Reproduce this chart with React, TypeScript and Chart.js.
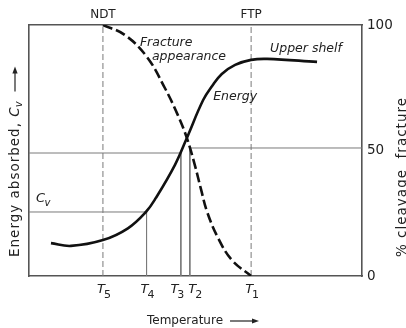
import { useEffect, useRef } from "react";
import { Chart, registerables } from "chart.js";

Chart.register(...registerables);

// ---- data (temperature axis 0..100, both curves on a 0..100 scale) ----
const T_NAMES = ["T", "T", "T", "T", "T"];
const T_SUBS = ["5", "4", "3", "2", "1"];
const T_VALUES = [22.2, 35.3, 45.6, 48.3, 66.7];
const TOP_LABELS = ["NDT", "FTP"];
const TOP_VALUES = [22.2, 66.7];
const RIGHT_TICKS = [0, 50, 100];

const ENERGY_X = [6.6, 12.6, 22.2, 29.7, 35.1, 38.1, 43.8, 47.4, 52.3, 55.0, 57.9, 61.9, 66.7, 71.5, 86.5];
const ENERGY_Y = [13.1, 12.0, 14.3, 19.0, 25.5, 31.1, 44.2, 55.0, 70.1, 75.7, 80.5, 84.1, 86.1, 86.5, 85.3];

const FRACTURE_X = [22.2, 28.8, 35.4, 40.8, 44.7, 47.4, 49.8, 51.7, 53.5, 56.8, 60.9, 66.7];
const FRACTURE_Y = [100, 96.0, 87.3, 74.9, 64.1, 55.0, 44.2, 34.3, 25.5, 15.1, 6.4, 0];

const CV_LEVEL = 25.5;
const LEFT_HALF = 49;
const RIGHT_HALF = 51;

const NOTES = [
  { text: "Fracture", x: 33.3, y: 92.8 },
  { text: "appearance", x: 36.9, y: 87.3 },
  { text: "Upper shelf", x: 72.4, y: 90.4 },
  { text: "Energy", x: 55.3, y: 71.3 },
];
const CV_NOTE = { x: 2.1, y: 30.7 };

const FONT = "'DejaVu Sans', sans-serif";
const TEXT = "#222";
const FRAME = "#555";
const GRAY = "#7a7a7a";
const INK = "#111";

function arrow(ctx: CanvasRenderingContext2D, x1: number, y1: number, x2: number, y2: number) {
  const ang = Math.atan2(y2 - y1, x2 - x1);
  const L = 7, W = 2.6;
  ctx.beginPath();
  ctx.moveTo(x1, y1);
  ctx.lineTo(x2 - Math.cos(ang) * L * 0.8, y2 - Math.sin(ang) * L * 0.8);
  ctx.stroke();
  ctx.beginPath();
  ctx.moveTo(x2, y2);
  ctx.lineTo(x2 - Math.cos(ang) * L + Math.sin(ang) * W, y2 - Math.sin(ang) * L - Math.cos(ang) * W);
  ctx.lineTo(x2 - Math.cos(ang) * L - Math.sin(ang) * W, y2 - Math.sin(ang) * L + Math.cos(ang) * W);
  ctx.closePath();
  ctx.fill();
}

const textPlugin = {
  id: "texts",
  afterDraw(chart: any) {
    const { ctx, chartArea: a, scales } = chart;
    const x = scales.x, y = scales.y;
    ctx.save();
    ctx.fillStyle = TEXT;
    ctx.strokeStyle = TEXT;
    ctx.lineWidth = 1.2;
    ctx.textBaseline = "middle";
    ctx.textAlign = "left";

    // curve annotations
    ctx.font = `italic 12.5px ${FONT}`;
    NOTES.forEach((n) => ctx.fillText(n.text, x.getPixelForValue(n.x), y.getPixelForValue(n.y)));
    {
      const px = x.getPixelForValue(CV_NOTE.x), py = y.getPixelForValue(CV_NOTE.y);
      ctx.font = `italic 13px ${FONT}`;
      ctx.fillText("C", px, py);
      const w = ctx.measureText("C").width;
      ctx.font = `italic 10px ${FONT}`;
      ctx.fillText("v", px + w - 0.5, py + 4);
    }

    // bottom temperature labels T with subscripts, pushed apart when they collide
    {
      const mainFont = `italic 13px ${FONT}`;
      const subFont = `11px ${FONT}`;
      const widths = T_NAMES.map((t, i) => {
        ctx.font = mainFont;
        const a1 = ctx.measureText(t).width;
        ctx.font = subFont;
        return a1 + ctx.measureText(T_SUBS[i]).width - 1;
      });
      const pos = T_VALUES.map((v) => x.getPixelForValue(v));
      for (let i = 0; i < pos.length - 1; i++) {
        const need = (widths[i] + widths[i + 1]) / 2 + 4;
        const d = pos[i + 1] - pos[i];
        if (d < need) {
          pos[i] -= (need - d) / 2;
          pos[i + 1] += (need - d) / 2;
        }
      }
      const ly = a.bottom + 14;
      T_NAMES.forEach((t, i) => {
        let lx = pos[i] - widths[i] / 2 + 1;
        ctx.font = mainFont;
        ctx.fillText(t, lx, ly);
        lx += ctx.measureText(t).width - 1;
        ctx.font = subFont;
        ctx.fillText(T_SUBS[i], lx, ly + 5);
      });
    }

    // left title (rotated, reading upward)
    ctx.save();
    ctx.translate(a.left - 14, a.bottom - 19);
    ctx.rotate(-Math.PI / 2);
    (ctx as any).letterSpacing = "1px";
    ctx.font = `13.5px ${FONT}`;
    const t1 = "Energy absorbed, ";
    ctx.fillText(t1, 0, 0);
    let off = ctx.measureText(t1).width;
    ctx.font = `italic 13.5px ${FONT}`;
    ctx.fillText("C", off, 0);
    off += ctx.measureText("C").width;
    ctx.font = `italic 10px ${FONT}`;
    ctx.fillText("v", off - 1, 4);
    off += ctx.measureText("v").width;
    (ctx as any).letterSpacing = "0px";
    arrow(ctx, off + 8, 0, off + 33, 0);
    ctx.restore();

    // right title (rotated, reading upward)
    ctx.save();
    ctx.translate(a.right + 40, a.bottom - 19);
    ctx.rotate(-Math.PI / 2);
    (ctx as any).letterSpacing = "1px";
    ctx.font = `13.5px ${FONT}`;
    ctx.fillText("% cleavage  fracture", 0, 0);
    (ctx as any).letterSpacing = "0px";
    ctx.restore();

    // bottom title
    ctx.font = `12px ${FONT}`;
    const bt = "Temperature";
    const bx = a.left + 118, by = a.bottom + 45;
    ctx.fillText(bt, bx, by);
    const bw = ctx.measureText(bt).width;
    arrow(ctx, bx + bw + 7, by, bx + bw + 36, by);
    ctx.restore();
  },
};

export default function App() {
  const ref = useRef<HTMLCanvasElement>(null);
  useEffect(() => {
    document.body.style.margin = "0";
    const canvas = ref.current!;
    const pts = (xs: number[], ys: number[]) => xs.map((v, i) => ({ x: v, y: ys[i] }));
    const refLine = (data: { x: number; y: number }[], dash: number[] = []) => ({
      data,
      borderColor: GRAY,
      borderWidth: 1,
      borderDash: dash,
      pointRadius: 0,
      tension: 0,
      fill: false,
    });
    const [T5, T4, T3, T2, T1] = T_VALUES;
    const chart = new Chart(canvas, {
      type: "line",
      data: {
        datasets: [
          {
            label: "Energy",
            data: pts(ENERGY_X, ENERGY_Y),
            borderColor: INK,
            borderWidth: 2.6,
            pointRadius: 0,
            tension: 0.4,
            fill: false,
          },
          {
            label: "Fracture appearance",
            data: pts(FRACTURE_X, FRACTURE_Y),
            borderColor: INK,
            borderWidth: 2.6,
            borderDash: [10, 4],
            pointRadius: 0,
            tension: 0.4,
            fill: false,
          },
          refLine([{ x: 0, y: CV_LEVEL }, { x: T4, y: CV_LEVEL }, { x: T4, y: 0 }]),
          refLine([{ x: 0, y: LEFT_HALF }, { x: T3, y: LEFT_HALF }, { x: T3, y: 0 }]),
          refLine([{ x: 100, y: RIGHT_HALF }, { x: T2, y: RIGHT_HALF }, { x: T2, y: 0 }]),
          refLine([{ x: T5, y: 0 }, { x: T5, y: 100 }], [6, 3]),
          refLine([{ x: T1, y: 0 }, { x: T1, y: 100 }], [6, 3]),
        ] as any,
      },
      options: {
        animation: false,
        responsive: true,
        maintainAspectRatio: false,
        layout: { padding: 0 },
        plugins: { legend: { display: false }, tooltip: { enabled: false } },
        events: [],
        scales: {
          x: {
            type: "linear",
            position: "bottom",
            min: 0,
            max: 100,
            grid: { display: false, drawTicks: false },
            border: { display: true, color: FRAME, width: 1.6 },
            ticks: { display: false },
            afterBuildTicks: (s: any) => {
              s.ticks = T_VALUES.map((value) => ({ value }));
            },
            afterFit: (s: any) => {
              s.height = 52;
            },
          },
          x2: {
            type: "linear",
            position: "top",
            min: 0,
            max: 100,
            grid: { display: false, drawTicks: false },
            border: { display: true, color: FRAME, width: 1.6 },
            ticks: {
              autoSkip: false,
              maxRotation: 0,
              padding: 3,
              color: TEXT,
              font: { family: FONT, size: 12 },
              callback: (_v: any, i: number) => TOP_LABELS[i],
            },
            afterBuildTicks: (s: any) => {
              s.ticks = TOP_VALUES.map((value) => ({ value }));
            },
            afterFit: (s: any) => {
              s.height = 25;
            },
          },
          y: {
            type: "linear",
            position: "left",
            min: 0,
            max: 100,
            grid: { display: false, drawTicks: false },
            border: { display: true, color: FRAME, width: 1.6 },
            ticks: { display: false },
            afterFit: (s: any) => {
              s.width = 29;
            },
          },
          y1: {
            type: "linear",
            position: "right",
            min: 0,
            max: 100,
            grid: { display: false, drawTicks: false },
            border: { display: true, color: FRAME, width: 1.6 },
            ticks: {
              padding: 5,
              color: TEXT,
              font: { family: FONT, size: 13.5 },
              callback: (v: any) => String(v),
            },
            afterBuildTicks: (s: any) => {
              s.ticks = RIGHT_TICKS.map((value) => ({ value }));
            },
            afterFit: (s: any) => {
              s.width = 44;
            },
          },
        },
      } as any,
      plugins: [textPlugin],
    });
    return () => chart.destroy();
  }, []);
  return (
    <div style={{ width: 406, height: 328, position: "relative" }}>
      <canvas ref={ref} />
    </div>
  );
}
